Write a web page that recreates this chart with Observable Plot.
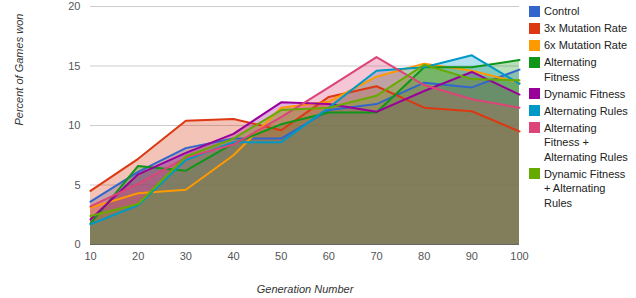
<!DOCTYPE html>
<html>
<head>
<meta charset="utf-8">
<script src="https://cdn.jsdelivr.net/npm/d3@7"></script>
<script src="https://cdn.jsdelivr.net/npm/@observablehq/plot@0.6"></script>
<style>
  html, body { margin: 0; padding: 0; background: #fff; }
  #wrap { position: relative; width: 636px; height: 298px; font-family: "Liberation Sans", Arial, sans-serif; }
  #legend { position: absolute; left: 529px; top: 4px; font-size: 11px; color: #222; }
  .item { display: flex; align-items: flex-start; margin-bottom: 2.5px; }
  .sw { width: 11px; height: 11px; margin-top: 1.8px; margin-right: 4px; flex: none; }
  .lbl { line-height: 14.5px; white-space: pre-line; }
</style>
</head>
<body>
<div id="wrap"><div id="legend"></div></div>
<script>
const generations = [10, 20, 30, 40, 50, 60, 70, 80, 90, 100];
const seriesNames = ["Control", "3x Mutation Rate", "6x Mutation Rate", "Alternating Fitness", "Dynamic Fitness", "Alternating Rules", "Alternating Fitness + Alternating Rules", "Dynamic Fitness + Alternating Rules"];
const legendLines = ["Control", "3x Mutation Rate", "6x Mutation Rate", "Alternating\nFitness", "Dynamic Fitness", "Alternating Rules", "Alternating\nFitness +\nAlternating Rules", "Dynamic Fitness\n+ Alternating\nRules"];
const seriesColors = ["#3366cc", "#dc3912", "#ff9900", "#109618", "#990099", "#0099c6", "#dd4477", "#66aa00"];

const control      = [3.6, 6.1, 8.1, 8.9, 8.9, 11.3, 11.8, 13.6, 13.2, 14.7];
const mutation3x   = [4.5, 7.2, 10.4, 10.55, 9.6, 12.4, 13.3, 11.5, 11.2, 9.5];
const mutation6x   = [3.1, 4.3, 4.6, 7.5, 11.5, 12.0, 14.1, 15.2, 14.6, 13.6];
const altFitness   = [1.75, 6.6, 6.2, 8.5, 10.1, 11.1, 11.1, 14.9, 14.9, 15.5];
const dynFitness   = [2.1, 5.9, 7.7, 9.3, 11.95, 11.8, 11.15, 12.9, 14.5, 12.6];
const altRules     = [1.7, 3.3, 7.1, 8.6, 8.6, 11.5, 14.6, 14.9, 15.9, 13.5];
const altFitRules  = [3.2, 5.1, 7.3, 8.4, 10.7, 13.2, 15.75, 13.4, 12.2, 11.5];
const dynFitRules  = [2.4, 3.4, 7.4, 8.9, 11.3, 11.5, 12.5, 15.1, 13.9, 13.8];
const yTicks = [0, 5, 10, 15, 20];

const allSeries = [control, mutation3x, mutation6x, altFitness, dynFitness, altRules, altFitRules, dynFitRules];
const data = [];
allSeries.forEach((vals, i) => vals.forEach((v, j) => data.push({series: seriesNames[i], gen: generations[j], value: v})));

const chart = Plot.plot({
  width: 636,
  height: 298,
  marginLeft: 90,
  marginRight: 117,
  marginTop: 6,
  marginBottom: 54,
  style: {fontFamily: "'Liberation Sans', Arial, sans-serif", fontSize: "11px", background: "transparent"},
  x: {domain: [10, 100], ticks: generations, tickSize: 0, tickPadding: 8, label: null},
  y: {domain: [0, 20], ticks: yTicks, tickSize: 0, tickPadding: 10, label: null},
  color: {domain: seriesNames, range: seriesColors},
  marks: [
    Plot.ruleY(yTicks.filter(d => d > 0), {stroke: "#cccccc", strokeWidth: 1}),
    Plot.areaY(data, {x: "gen", y1: 0, y2: "value", z: "series", fill: "series", fillOpacity: 0.3}),
    Plot.lineY(data, {x: "gen", y: "value", z: "series", stroke: "series", strokeWidth: 2}),
    Plot.ruleY([0], {stroke: "#666", strokeWidth: 1}),
    Plot.axisX({ticks: generations, tickSize: 0, tickPadding: 8, color: "#555", tickFormat: d => d}),
    Plot.axisY({ticks: yTicks, tickSize: 0, tickPadding: 10, color: "#555"}),
    Plot.text(["Generation Number"], {frameAnchor: "bottom", dy: 48, text: d => d, fontStyle: "italic", fill: "#333", fontSize: 11}),
    Plot.text(["Percent of Games won"], {frameAnchor: "left", dx: -71, rotate: -90, text: d => d, fontStyle: "italic", fill: "#333", fontSize: 11})
  ]
});
document.getElementById("wrap").prepend(chart);

const legend = document.getElementById("legend");
seriesNames.forEach((name, i) => {
  const item = document.createElement("div");
  item.className = "item";
  const sw = document.createElement("div");
  sw.className = "sw";
  sw.style.background = seriesColors[i];
  const lbl = document.createElement("div");
  lbl.className = "lbl";
  lbl.textContent = legendLines[i];
  item.appendChild(sw);
  item.appendChild(lbl);
  legend.appendChild(item);
});
</script>
</body>
</html>
